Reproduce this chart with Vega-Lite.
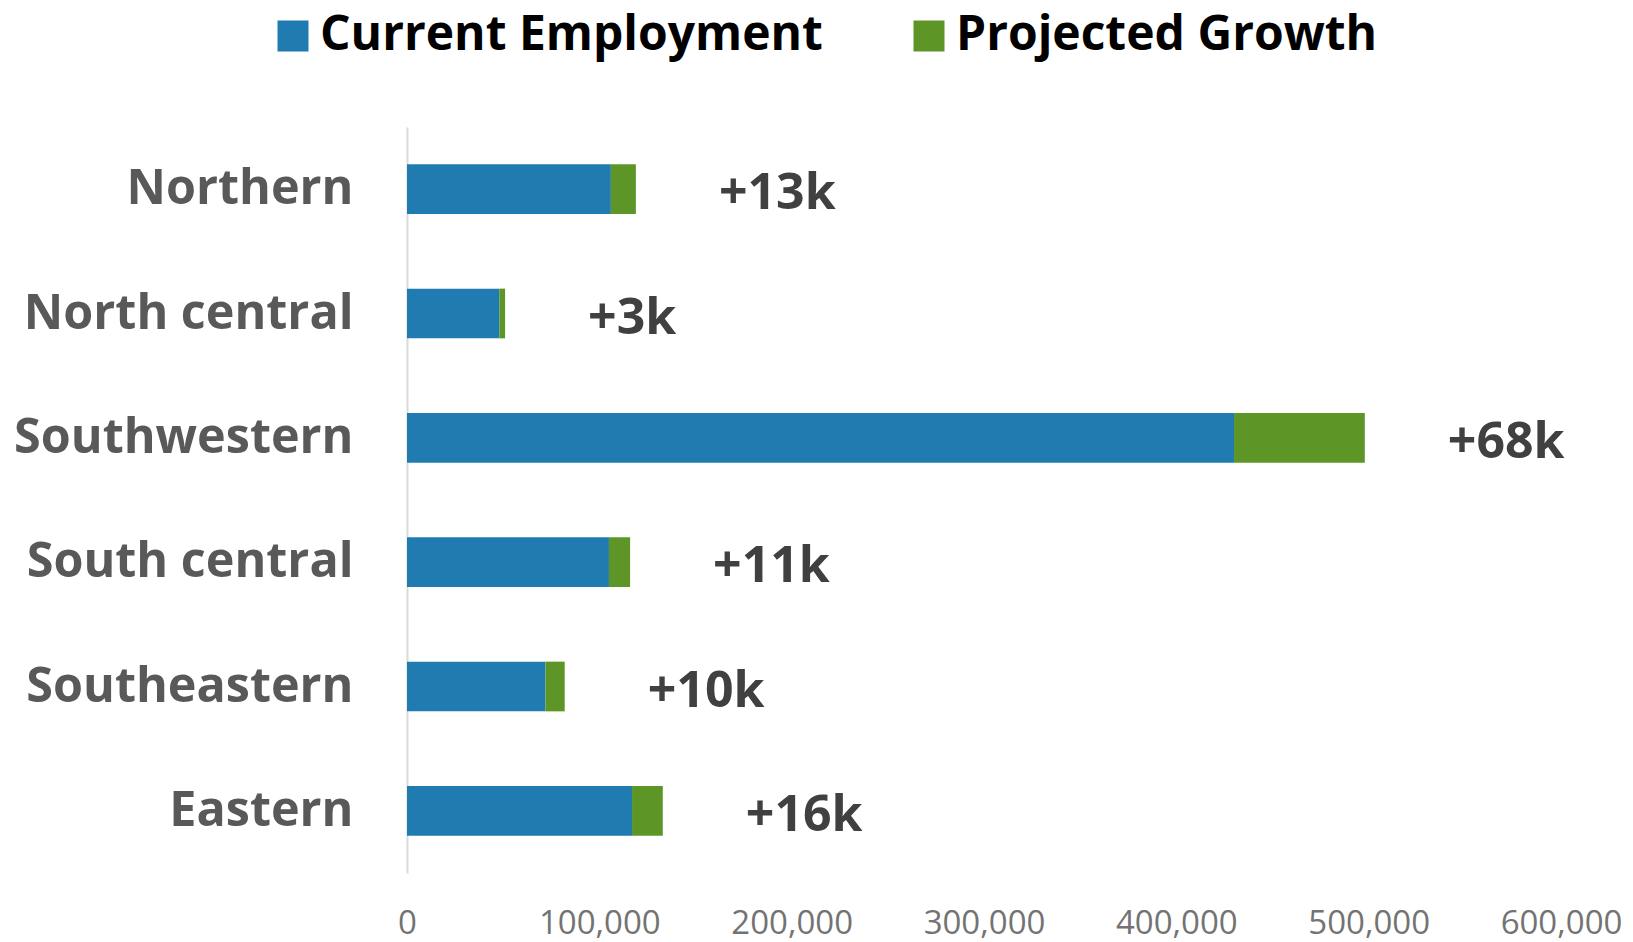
{
  "$schema": "https://vega.github.io/schema/vega-lite/v6.json",
  "width": 1154,
  "height": 746,
  "autosize": {"type": "none"},
  "padding": {"left": 407, "top": 127, "right": 72, "bottom": 69},
  "background": "white",
  "config": {"view": {"stroke": null}, "font": "Open Sans"},
  "data": {
    "values": [
      {"region": "Northern", "current": 106000, "growth": 13000, "label": "+13k"},
      {"region": "North central", "current": 48000, "growth": 3000, "label": "+3k"},
      {"region": "Southwestern", "current": 430000, "growth": 68000, "label": "+68k"},
      {"region": "South central", "current": 105000, "growth": 11000, "label": "+11k"},
      {"region": "Southeastern", "current": 72000, "growth": 10000, "label": "+10k"},
      {"region": "Eastern", "current": 117000, "growth": 16000, "label": "+16k"}
    ]
  },
  "transform": [{"fold": ["current", "growth"], "as": ["series", "value"]}],
  "encoding": {
    "y": {
      "field": "region",
      "type": "nominal",
      "sort": ["Northern", "North central", "Southwestern", "South central", "Southeastern", "Eastern"],
      "scale": {"paddingInner": 0.6, "paddingOuter": 0.3},
      "axis": {
        "title": null,
        "ticks": false,
        "labelFont": "Open Sans",
        "labelFontSize": 48.5,
        "labelFontWeight": "bold",
        "labelColor": "#595959",
        "labelPadding": 54,
        "labelLimit": 600,
        "domainColor": "#d9d9d9",
        "domainWidth": 2
      }
    }
  },
  "layer": [
    {
      "mark": {"type": "bar"},
      "encoding": {
        "x": {
          "field": "value",
          "type": "quantitative",
          "stack": "zero",
          "scale": {"domain": [0, 600000], "nice": false},
          "axis": {
            "title": null,
            "values": [0, 100000, 200000, 300000, 400000, 500000, 600000],
            "format": ",d",
            "grid": false,
            "ticks": false,
            "domain": false,
            "labelFont": "Open Sans",
            "labelFontSize": 33,
            "labelColor": "#737373",
            "labelPadding": 34,
            "labelFlush": false,
            "labelOverlap": false
          }
        },
        "color": {
          "field": "series",
          "type": "nominal",
          "scale": {"domain": ["current", "growth"], "range": ["#1f7bb0", "#5d9626"]},
          "legend": {
            "title": null,
            "orient": "none",
            "direction": "horizontal",
            "legendX": -138,
            "legendY": -115,
            "symbolType": "square",
            "symbolSize": 961,
            "symbolStrokeWidth": 0,
            "labelFont": "Open Sans",
            "labelFontSize": 48,
            "labelFontWeight": "bold",
            "labelColor": "#000000",
            "labelOffset": 3,
            "columnPadding": 82,
            "labelLimit": 800,
            "labelExpr": "datum.label == 'current' ? 'Current Employment' : 'Projected Growth'"
          }
        },
        "order": {"field": "series", "sort": "ascending"}
      }
    },
    {
      "mark": {
        "type": "text",
        "align": "left",
        "baseline": "middle",
        "dx": 83,
        "dy": 5,
        "font": "Open Sans",
        "fontSize": 50,
        "fontWeight": "bold",
        "color": "#404040"
      },
      "encoding": {
        "x": {"aggregate": "sum", "field": "value", "type": "quantitative"},
        "text": {"field": "label"}
      }
    }
  ]
}
